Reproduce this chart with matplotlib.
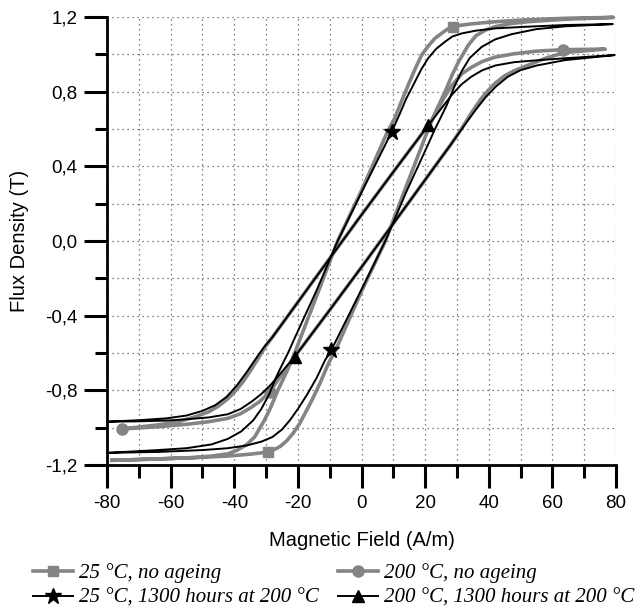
import matplotlib
matplotlib.use('Agg')
import matplotlib.pyplot as plt

# 25 C, no ageing (gray, squares)
g25_asc_H = [-78.5, -65, -52, -42, -35, -31, -29.4, -27.5, -25.5, -23.5, -21.5, -19.5, -17.5, -15.5, -13, -10.5, -7.9, 0, 7.5, 14, 21, 23.5, 26.3, 28.5, 30.5, 33.6, 36, 39, 42, 47, 52.4, 64, 79.2]
g25_asc_B = [-1.175, -1.168, -1.16, -1.152, -1.142, -1.134, -1.128, -1.118, -1.1, -1.07, -1.03, -0.98, -0.915, -0.85, -0.76, -0.66, -0.575, -0.27, 0.0, 0.29, 0.6, 0.7, 0.8, 0.89, 0.96, 1.05, 1.1, 1.13, 1.148, 1.165, 1.175, 1.188, 1.198]
g25_des_H = [79.2, 64, 52, 45, 39.9, 34, 31, 28.9, 27, 25, 23.1, 21, 18.9, 16.8, 14.7, 12.5, 10.5, 7.9, 0, -7.5, -14, -21, -23.5, -26.3, -28.5, -30.5, -33.6, -36, -39, -42, -47, -52.4, -65, -78.5]
g25_des_B = [1.198, 1.193, 1.185, 1.178, 1.172, 1.162, 1.155, 1.148, 1.135, 1.11, 1.086, 1.045, 0.996, 0.92, 0.836, 0.745, 0.66, 0.575, 0.27, 0.0, -0.29, -0.6, -0.7, -0.8, -0.89, -0.96, -1.05, -1.09, -1.12, -1.14, -1.152, -1.16, -1.168, -1.175]

# 25 C, 1300 h at 200 C (black, stars)
b25_asc_H = [-80, -64, -50, -42, -36, -31.5, -28, -25, -22.5, -20, -17, -14, -11.5, -9.5, 0, 7.5, 14, 21, 23.1, 25, 26.8, 29, 31.5, 34, 37.8, 42, 47.2, 55, 64, 79]
b25_asc_B = [-1.135, -1.13, -1.12, -1.11, -1.095, -1.075, -1.05, -1.01, -0.96, -0.9, -0.82, -0.73, -0.64, -0.585, -0.26, 0.0, 0.26, 0.52, 0.6, 0.665, 0.728, 0.82, 0.91, 0.98, 1.04, 1.08, 1.108, 1.135, 1.15, 1.162]
b25_des_H = [79, 64, 52, 42, 36, 31.5, 28.5, 26.3, 23.5, 21, 18.8, 16.8, 14, 12, 9.5, 0, -7.5, -14, -21, -23.1, -25, -26.8, -29, -31.5, -34, -37.8, -42, -47.2, -55, -64, -80]
b25_des_B = [1.162, 1.157, 1.148, 1.139, 1.127, 1.112, 1.095, 1.068, 1.03, 0.98, 0.92, 0.853, 0.76, 0.68, 0.585, 0.26, 0.0, -0.26, -0.52, -0.6, -0.665, -0.728, -0.82, -0.9, -0.96, -1.02, -1.06, -1.09, -1.11, -1.12, -1.135]

# 200 C, no ageing (gray, circles)
g200_asc_H = [-75.4, -64, -55, -48, -42, -38, -35, -32, -28.8, -26.5, -24, -21, -10, 0, 6, 15, 25, 28, 30.4, 32.5, 34.7, 37.5, 40, 42, 45, 48, 52.5, 58, 64, 76.6]
g200_asc_B = [-1.007, -0.995, -0.982, -0.968, -0.95, -0.925, -0.895, -0.86, -0.807, -0.75, -0.69, -0.62, -0.37, -0.14, 0.0, 0.21, 0.445, 0.515, 0.575, 0.63, 0.69, 0.76, 0.81, 0.845, 0.885, 0.912, 0.943, 0.98, 1.01, 1.028]
g200_des_H = [76.6, 63.4, 55, 48, 42, 38, 34.5, 31.5, 28.5, 26, 23.5, 21, 10, 0, -6, -15, -25, -28, -30.4, -32.5, -34.7, -37.5, -40, -42, -45, -48, -52.5, -58, -64, -75.4]
g200_des_B = [1.028, 1.025, 1.017, 1.003, 0.985, 0.962, 0.93, 0.895, 0.835, 0.77, 0.69, 0.62, 0.37, 0.14, 0.0, -0.21, -0.445, -0.515, -0.57, -0.63, -0.69, -0.76, -0.81, -0.845, -0.885, -0.915, -0.943, -0.97, -0.985, -1.007]

# 200 C, 1300 h at 200 C (black, triangles)
b200_asc_H = [-80, -70, -61, -55, -48, -42, -38, -34.5, -31.5, -28.5, -26, -23.5, -21, -10, 0, 6, 15, 25, 28, 30.5, 33, 36, 39, 42.4, 46, 50, 55, 64, 79.6]
b200_asc_B = [-0.968, -0.966, -0.962, -0.955, -0.945, -0.928, -0.9, -0.86, -0.82, -0.77, -0.72, -0.67, -0.62, -0.37, -0.14, 0.0, 0.21, 0.445, 0.515, 0.575, 0.635, 0.705, 0.77, 0.83, 0.88, 0.915, 0.94, 0.969, 0.996]
b200_des_H = [79.6, 64, 55, 48, 42, 38, 34.5, 31.5, 28.5, 26, 23.5, 21, 10, 0, -6, -15, -25, -28, -30.5, -33, -36, -39, -42.4, -46, -50, -55, -61.3, -70, -80]
b200_des_B = [0.996, 0.979, 0.968, 0.958, 0.94, 0.915, 0.88, 0.84, 0.785, 0.73, 0.675, 0.62, 0.37, 0.14, 0.0, -0.21, -0.445, -0.515, -0.565, -0.625, -0.7, -0.77, -0.835, -0.88, -0.91, -0.935, -0.95, -0.96, -0.968]

legend_labels = ['25 \u00b0C, no ageing', '25 \u00b0C, 1300 hours at 200 \u00b0C',
                 '200 \u00b0C, no ageing', '200 \u00b0C, 1300 hours at 200 \u00b0C']
xticks = [-80, -60, -40, -20, 0, 20, 40, 60, 80]
yticks = [-1.2, -0.8, -0.4, 0.0, 0.4, 0.8, 1.2]
ytick_labels = ['-1,2', '-0,8', '-0,4', '0,0', '0,4', '0,8', '1,2']

plt.rcParams['font.family'] = ['Liberation Sans', 'DejaVu Sans']
plt.rcParams['axes.unicode_minus'] = False
fig = plt.figure(figsize=(6.42, 6.10), dpi=100)
ax = fig.add_axes([107/642, 1-465/610, (616-107)/642, (465-17)/610])

gray = '#848484'
def loop(hA, bA, hD, bD, color, lw, marker, ms, ha_mark, hd_mark, z):
    H = hA + hD
    B = bA + bD
    marks = [hA.index(ha_mark)] + [len(hA) + hD.index(h) for h in hd_mark]
    ln, = ax.plot(H, B, color=color, lw=lw, marker=marker, ms=ms, markevery=marks,
                  mfc=color, mec=color, solid_joinstyle='round', zorder=z, clip_on=False)
    return ln

l1 = loop(g25_asc_H, g25_asc_B, g25_des_H, g25_des_B, gray, 2.6, 's', 7, -29.4, [28.9], 3)
l2 = loop(g200_asc_H, g200_asc_B, g200_des_H, g200_des_B, gray, 2.6, 'o', 8, -75.4, [63.4], 3)
# second circle on the ascending 200 C branch
i = g200_asc_H.index(-28.8)
ax.plot(g200_asc_H[i], g200_asc_B[i], 'o', color=gray, ms=8, zorder=3)
l3 = loop(b25_asc_H, b25_asc_B, b25_des_H, b25_des_B, 'black', 1.4, '*', 12, -9.5, [9.5], 4)
l4 = loop(b200_asc_H, b200_asc_B, b200_des_H, b200_des_B, 'black', 1.4, '^', 9, -21, [21], 4)

ax.set_xlim(-80, 80)
ax.set_ylim(-1.2, 1.2)
ax.set_xticks(xticks)
ax.set_xticks(range(-70, 80, 20), minor=True)
ax.set_yticks(yticks)
ax.set_yticklabels(ytick_labels)
ax.set_yticks([-1.0, -0.6, -0.2, 0.2, 0.6, 1.0], minor=True)
ax.grid(which='both', ls=(0, (1, 3)), color='0.35', lw=0.9)
ax.set_axisbelow(True)
for s in ['top', 'right']:
    ax.spines[s].set_visible(False)
for s in ['left', 'bottom']:
    ax.spines[s].set_linewidth(2)
ax.tick_params(which='major', direction='out', length=16.5, width=2.2, labelsize=13.5, pad=5)
ax.tick_params(which='minor', direction='out', length=9, width=2.2)
ax.set_xlabel('Magnetic Field (A/m)', fontsize=14.5, labelpad=14)
ax.set_ylabel('Flux Density (T)', fontsize=14.5, labelpad=11)

fig.legend([l1, l3, l2, l4], legend_labels, ncol=2, loc='upper left',
           bbox_to_anchor=(33/642, 1-563/610), frameon=False, handlelength=1.9,
           columnspacing=0.93, labelspacing=0.26, handletextpad=0.3,
           borderpad=0, borderaxespad=0,
           prop={'family': 'Liberation Serif', 'style': 'italic', 'size': 15})

fig.savefig('out.png', dpi=100)
